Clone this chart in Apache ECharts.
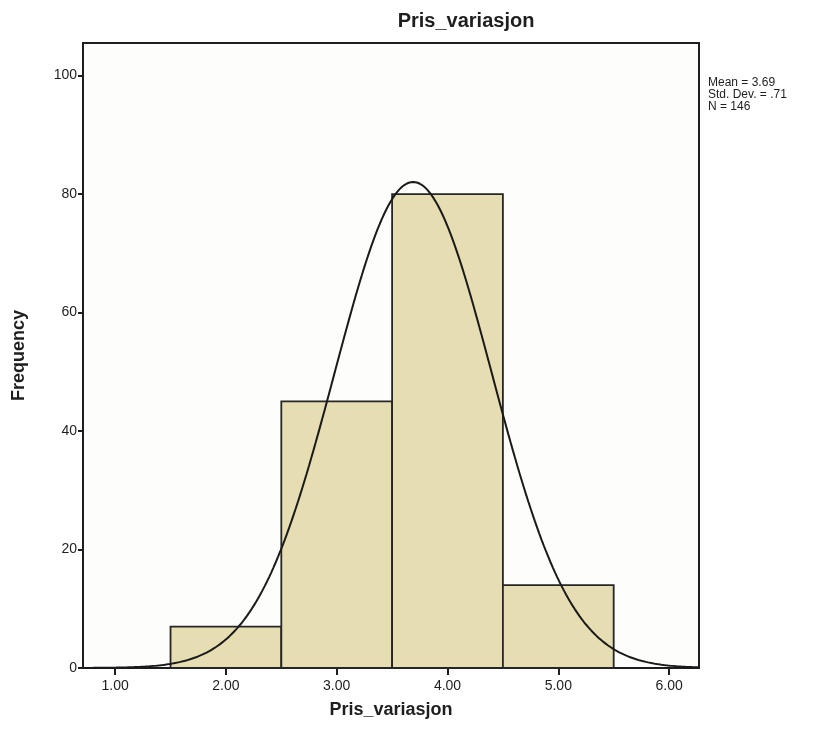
<!DOCTYPE html>
<html>
<head>
<meta charset="utf-8">
<title>Pris_variasjon</title>
<script src="https://cdn.jsdelivr.net/npm/echarts@6/dist/echarts.min.js"></script>
<style>
  html, body { margin: 0; padding: 0; background: #ffffff; }
  #chart { width: 821px; height: 737px; }
</style>
</head>
<body>
<div id="chart"></div>
<script>
// Histogram bins (lower / upper bound) and their frequencies
var binStart = [1.5, 2.5, 3.5, 4.5];
var binEnd   = [2.5, 3.5, 4.5, 5.5];
var counts   = [7, 45, 80, 14];

// Axis tick positions
var xTicks = [1, 2, 3, 4, 5, 6];
var yTicks = [0, 20, 40, 60, 80, 100];

// Summary statistics shown beside the plot; the normal curve is drawn from them
var MEAN = 3.69;
var SD = 0.71;
var N = 146;
var BIN_WIDTH = 1;

var X_MIN = 0.71, X_MAX = 6.27;
var Y_MIN = 0, Y_MAX = 105.5;

// Expected frequency under the fitted normal distribution
var curve = [];
for (var x = X_MIN; x <= X_MAX + 1e-9; x += 0.02) {
  var z = (x - MEAN) / SD;
  var y = N * BIN_WIDTH * Math.exp(-0.5 * z * z) / (SD * Math.sqrt(2 * Math.PI));
  curve.push([x, y]);
}

var barData = counts.map(function (c, i) { return [binStart[i], binEnd[i], c]; });

var FONT = '"Liberation Sans", Arial, sans-serif';

var chart = echarts.init(document.getElementById('chart'), null, { renderer: 'canvas' });

chart.setOption({
  backgroundColor: '#ffffff',
  animation: false,
  title: {
    text: 'Pris_variasjon',
    left: 461,
    top: 6,
    textAlign: 'center',
    textStyle: { fontFamily: FONT, fontSize: 20, fontWeight: 'bold', color: '#1e1e1e' }
  },
  grid: {
    left: 83, right: 122, top: 43, bottom: 69,
    show: true,
    backgroundColor: '#fdfdfb',
    borderColor: '#1e1e1e',
    borderWidth: 2
  },
  xAxis: {
    type: 'value',
    min: X_MIN,
    max: X_MAX,
    name: 'Pris_variasjon',
    nameLocation: 'middle',
    nameGap: 33,
    nameTextStyle: { fontFamily: FONT, fontSize: 18, fontWeight: 'bold', color: '#1e1e1e' },
    axisLine: { show: true, lineStyle: { color: '#1e1e1e', width: 2 } },
    axisTick: { show: true, customValues: xTicks, length: 7, lineStyle: { color: '#1e1e1e', width: 2 } },
    axisLabel: {
      customValues: xTicks,
      formatter: function (v) { return v.toFixed(2); },
      fontFamily: FONT, fontSize: 14, color: '#1e1e1e', margin: 11
    },
    splitLine: { show: false }
  },
  yAxis: {
    type: 'value',
    min: Y_MIN,
    max: Y_MAX,
    name: 'Frequency',
    nameLocation: 'middle',
    nameGap: 55,
    nameRotate: 90,
    nameTextStyle: { fontFamily: FONT, fontSize: 18, fontWeight: 'bold', color: '#1e1e1e' },
    axisLine: { show: true, lineStyle: { color: '#1e1e1e', width: 2 } },
    axisTick: { show: true, customValues: yTicks, length: 5, lineStyle: { color: '#1e1e1e', width: 2 } },
    axisLabel: {
      customValues: yTicks,
      fontFamily: FONT, fontSize: 14, color: '#1e1e1e', margin: 6
    },
    splitLine: { show: false }
  },
  graphic: [{
    type: 'text',
    left: 708,
    top: 77,
    style: {
      text: 'Mean = 3.69\nStd. Dev. = .71\nN = 146',
      font: '12px ' + FONT,
      lineHeight: 12,
      fill: '#1e1e1e'
    }
  }],
  series: [
    {
      type: 'custom',
      name: 'Frequency',
      data: barData,
      encode: { x: [0, 1], y: 2 },
      renderItem: function (params, api) {
        var p0 = api.coord([api.value(0), api.value(2)]);
        var p1 = api.coord([api.value(1), 0]);
        return {
          type: 'rect',
          shape: { x: p0[0], y: p0[1], width: p1[0] - p0[0], height: p1[1] - p0[1] },
          style: { fill: '#e6ddb2', stroke: '#262626', lineWidth: 1.8 }
        };
      },
      z: 2
    },
    {
      type: 'line',
      name: 'Normal',
      data: curve,
      showSymbol: false,
      smooth: false,
      lineStyle: { color: '#1a1a1a', width: 2 },
      z: 3
    }
  ]
});
</script>
</body>
</html>
